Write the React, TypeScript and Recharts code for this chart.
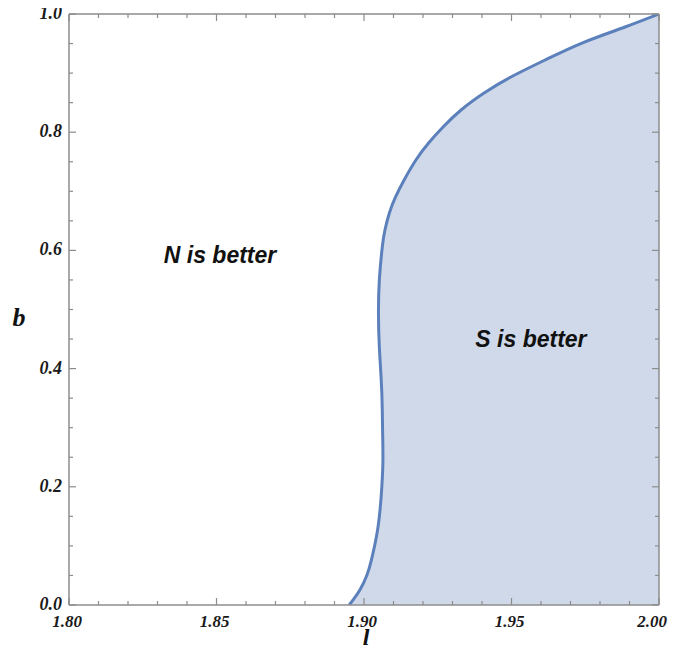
import React from "react";
import {
  ComposedChart,
  Area,
  Line,
  XAxis,
  YAxis,
  ReferenceDot,
} from "recharts";

// boundary curve: b (vertical) vs l (horizontal)
const bValues = [
  0, 0.0254, 0.0508, 0.0761, 0.1269, 0.1827, 0.2403, 0.2961, 0.3638, 0.4365,
  0.4941, 0.5499, 0.6058, 0.6345, 0.6633, 0.6904, 0.7191, 0.753, 0.7817,
  0.8088, 0.8376, 0.8663, 0.8934, 0.9222, 0.9509, 0.978, 1.0,
];
const lValues = [
  1.895, 1.8986, 1.901, 1.9025, 1.9046, 1.9058, 1.9064, 1.9063, 1.906,
  1.9052, 1.9049, 1.9052, 1.9062, 1.9071, 1.9086, 1.9107, 1.9136, 1.9176,
  1.9219, 1.9268, 1.9329, 1.9407, 1.9498, 1.9614, 1.9739, 1.9885, 2.0,
];
const L_MIN = 1.8;
const L_MAX = 2.0;

const xTicks = [
  1.8, 1.81, 1.82, 1.83, 1.84, 1.85, 1.86, 1.87, 1.88, 1.89, 1.9, 1.91, 1.92,
  1.93, 1.94, 1.95, 1.96, 1.97, 1.98, 1.99, 2.0,
];
const yTicks = [
  0, 0.05, 0.1, 0.15, 0.2, 0.25, 0.3, 0.35, 0.4, 0.45, 0.5, 0.55, 0.6, 0.65,
  0.7, 0.75, 0.8, 0.85, 0.9, 0.95, 1.0,
];

const annotations = [
  { text: "N is better", l: 1.8512, b: 0.592 },
  { text: "S is better", l: 1.9566, b: 0.45 },
];

const data = bValues.map((b, i) => ({
  b,
  l: lValues[i],
  range: [lValues[i], L_MAX],
}));

const FRAME = "#8c8c8c";
const TICK_FONT = "'Liberation Serif', 'DejaVu Serif', serif";

const isMajorX = (v: number) => Math.round(v * 100) % 5 === 0;
const isMajorY = (v: number) => Math.round(v * 100) % 20 === 0;

const BottomTick = (props: any) => {
  const { x, y, payload } = props;
  const v = payload.value;
  const major = isMajorX(v);
  const last = Math.abs(v - L_MAX) < 1e-9;
  return (
    <g>
      <line x1={x} x2={x} y1={y} y2={y - (major ? 7 : 4)} stroke={FRAME} strokeWidth={1.2} />
      {major && (
        <text
          x={last ? x + 8 : x - 2}
          y={y + 22}
          textAnchor={last ? "end" : "middle"}
          fontFamily={TICK_FONT}
          fontWeight="bold"
          fontStyle="italic"
          fontSize={17}
          fill="#1a1a1a"
        >
          {v.toFixed(2)}
        </text>
      )}
    </g>
  );
};

const TopTick = (props: any) => {
  const { x, y, payload } = props;
  const major = isMajorX(payload.value);
  return <line x1={x} x2={x} y1={y} y2={y + (major ? 7 : 4)} stroke={FRAME} strokeWidth={1.2} />;
};

const LeftTick = (props: any) => {
  const { x, y, payload } = props;
  const v = payload.value;
  const major = isMajorY(v);
  return (
    <g>
      <line x1={x} x2={x + (major ? 7 : 4)} y1={y} y2={y} stroke={FRAME} strokeWidth={1.2} />
      {major && (
        <text
          x={x - 7}
          y={y + 5}
          textAnchor="end"
          fontFamily={TICK_FONT}
          fontWeight="bold"
          fontStyle="italic"
          fontSize={18}
          fill="#1a1a1a"
        >
          {v.toFixed(1)}
        </text>
      )}
    </g>
  );
};

const RightTick = (props: any) => {
  const { x, y, payload } = props;
  const major = isMajorY(payload.value);
  return <line x1={x} x2={x - (major ? 7 : 4)} y1={y} y2={y} stroke={FRAME} strokeWidth={1.2} />;
};

const AnnotationLabel = (text: string) => (props: any) => {
  const { viewBox } = props;
  const cx = viewBox.x + (viewBox.width || 0) / 2;
  const cy = viewBox.y + (viewBox.height || 0) / 2;
  return (
    <text
      x={cx}
      y={cy + 8}
      textAnchor="middle"
      fontFamily="'Liberation Sans', Arial, sans-serif"
      fontWeight="bold"
      fontStyle="italic"
      fontSize={23}
      fill="#111"
    >
      {text}
    </text>
  );
};

const YLabel = (props: any) => {
  const { viewBox } = props;
  return (
    <text
      x={viewBox.x + 19}
      y={viewBox.y + viewBox.height / 2 + 16}
      textAnchor="middle"
      fontFamily={TICK_FONT}
      fontWeight="bold"
      fontStyle="italic"
      fontSize={26}
      fill="#111"
    >
      b
    </text>
  );
};

const XLabel = (props: any) => {
  const { viewBox } = props;
  return (
    <text
      x={viewBox.x + viewBox.width / 2 + 2}
      y={viewBox.y + 40}
      textAnchor="middle"
      fontFamily={TICK_FONT}
      fontWeight="bold"
      fontStyle="italic"
      fontSize={24}
      fill="#111"
    >
      l
    </text>
  );
};

export default function App() {
  return (
    <div style={{ position: "relative", top: -8, left: -8, width: 660, height: 638 }}>
      <ComposedChart
        width={676}
        height={654}
        data={data}
        layout="vertical"
        margin={{ top: 13, right: 16, bottom: 48, left: 0 }}
      >
        <XAxis
          xAxisId={0}
          type="number"
          dataKey="l"
          domain={[L_MIN, L_MAX]}
          ticks={xTicks}
          interval={0}
          allowDataOverflow
          height={1}
          tickSize={0}
          tickMargin={0}
          tickLine={false}
          tick={<BottomTick />}
          axisLine={{ stroke: FRAME, strokeWidth: 1.5 }}
          label={<XLabel />}
        />
        <XAxis
          xAxisId="top"
          orientation="top"
          type="number"
          domain={[L_MIN, L_MAX]}
          ticks={xTicks}
          interval={0}
          allowDataOverflow
          height={1}
          tickSize={0}
          tickMargin={0}
          tickLine={false}
          tick={<TopTick />}
          axisLine={{ stroke: FRAME, strokeWidth: 1.5 }}
        />
        <YAxis
          yAxisId={0}
          type="number"
          dataKey="b"
          domain={[0, 1]}
          reversed
          ticks={yTicks}
          interval={0}
          allowDataOverflow
          width={69}
          tickSize={0}
          tickMargin={0}
          tickLine={false}
          tick={<LeftTick />}
          axisLine={{ stroke: FRAME, strokeWidth: 1.5 }}
          label={<YLabel />}
        />
        <YAxis
          yAxisId="right"
          orientation="right"
          type="number"
          dataKey="b"
          domain={[0, 1]}
          reversed
          ticks={yTicks}
          interval={0}
          allowDataOverflow
          width={1}
          tickSize={0}
          tickMargin={0}
          tickLine={false}
          tick={<RightTick />}
          axisLine={{ stroke: FRAME, strokeWidth: 1.5 }}
        />
        <Area
          dataKey="range"
          type="natural"
          fill="#cfd9e9"
          fillOpacity={1}
          stroke="none"
          isAnimationActive={false}
        />
        <Line
          dataKey="l"
          type="natural"
          stroke="#5b80bb"
          strokeWidth={3}
          dot={false}
          isAnimationActive={false}
        />
        {annotations.map((a) => (
          <ReferenceDot
            key={a.text}
            x={a.l}
            y={a.b}
            r={0}
            fill="none"
            stroke="none"
            label={AnnotationLabel(a.text)}
          />
        ))}
      </ComposedChart>
    </div>
  );
}
